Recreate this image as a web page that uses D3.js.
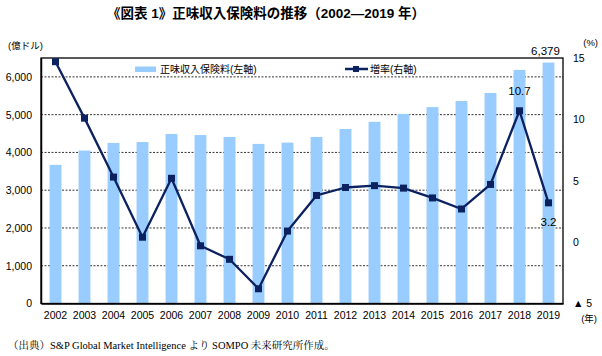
<!DOCTYPE html>
<html><head><meta charset="utf-8">
<script src="https://cdn.jsdelivr.net/npm/d3@7"></script>
<style>
body{margin:0;background:#fff;}
text{font-family:"Liberation Sans","Noto Sans CJK JP",sans-serif;fill:#000;}
</style></head><body>
<svg id="c" width="602" height="356"></svg>
<script>
const years = ["2002","2003","2004","2005","2006","2007","2008","2009","2010","2011","2012","2013","2014","2015","2016","2017","2018","2019"];
const premiums = [3670,4050,4250,4275,4490,4460,4410,4225,4260,4410,4620,4810,5020,5200,5360,5575,6185,6379];
const growth = [14.7,10.1,5.3,0.4,5.2,-0.3,-1.4,-3.8,0.9,3.8,4.45,4.6,4.4,3.6,2.7,4.7,10.7,3.2];
const leftTicks = [0,1000,2000,3000,4000,5000,6000];
const rightTicks = [-5,0,5,10,15];
const title = "《図表 1》正味収入保険料の推移（2002—2019 年）";
const legendBar = "正味収入保険料(左軸)";
const legendLine = "増率(右軸)";
const note = "（出典）S&P Global Market Intelligence より SOMPO 未来研究所作成。";

const svg = d3.select("#c");
const L=41, R=563, T=58, B=303.5;
const x = d3.scaleBand().domain(years).range([L,R]).paddingInner(0.59).paddingOuter(0.295);
const xc = d3.scaleBand().domain(years).range([L,R]);
const yL = d3.scaleLinear().domain([0,6500]).range([B,T]);
const yR = d3.scaleLinear().domain([-5,15]).range([B,T]);
const barColor="#99CCFF", lineColor="#0B2160";

// title
svg.append("text").attr("x",266).attr("y",18).attr("text-anchor","middle")
  .style("font-size","13.5px").style("font-weight","600").text(title);

// gridlines
svg.append("g").selectAll("line").data(leftTicks.filter(d=>d>0)).join("line")
  .attr("x1",L).attr("x2",R).attr("y1",d=>yL(d)).attr("y2",d=>yL(d))
  .attr("stroke","#333").attr("stroke-width",1).attr("stroke-dasharray","2,1.5");

// bars
svg.append("g").selectAll("rect").data(years).join("rect")
  .attr("x",d=>x(d)).attr("width",x.bandwidth())
  .attr("y",(d,i)=>yL(premiums[i])).attr("height",(d,i)=>B-yL(premiums[i]))
  .attr("fill",barColor);

// frame
svg.append("rect").attr("x",L).attr("y",T).attr("width",R-L).attr("height",B-T)
  .attr("fill","none").attr("stroke","#000").attr("stroke-width",1.3);

// left axis
const gl = svg.append("g").attr("transform",`translate(${L},0)`)
  .call(d3.axisLeft(yL).tickValues(leftTicks).tickFormat(d3.format(",")).tickSize(0).tickPadding(9));
gl.select(".domain").attr("stroke","#000").attr("stroke-width",1.5);
gl.selectAll("text").style("font-size","10.5px").style("font-family","Liberation Sans");

// right axis
const gr = svg.append("g").attr("transform",`translate(${R},0)`)
  .call(d3.axisRight(yR).tickValues(rightTicks).tickFormat(d=>d<0?"▲ "+Math.abs(d):d).tickSize(0).tickPadding(10));
gr.select(".domain").remove();
gr.selectAll("text").style("font-size","10.5px").style("font-family","Liberation Sans");

// bottom axis
const gb = svg.append("g").attr("transform",`translate(0,${B})`)
  .call(d3.axisBottom(xc).tickSize(0).tickPadding(8));
gb.select(".domain").attr("stroke","#000").attr("stroke-width",1.5);
gb.selectAll("text").style("font-size","10.5px").style("font-family","Liberation Sans");

// line
const line = d3.line().x((d,i)=>xc(years[i])+xc.bandwidth()/2).y(d=>yR(d));
svg.append("path").datum(growth).attr("d",line).attr("fill","none")
  .attr("stroke",lineColor).attr("stroke-width",2.3).attr("stroke-linejoin","round");
svg.append("g").selectAll("rect").data(growth).join("rect")
  .attr("x",(d,i)=>xc(years[i])+xc.bandwidth()/2-3.5).attr("y",d=>yR(d)-3.5)
  .attr("width",7).attr("height",7).attr("fill",lineColor);

// data labels
const i18 = years.indexOf("2018"), i19 = years.indexOf("2019");
svg.append("text").attr("x",xc(years[i18])+xc.bandwidth()/2).attr("y",yR(growth[i18])-16)
  .attr("text-anchor","middle").style("font-size","11.5px").text(growth[i18].toFixed(1));
svg.append("text").attr("x",xc(years[i19])+xc.bandwidth()/2).attr("y",yR(growth[i19])+23)
  .attr("text-anchor","middle").style("font-size","11.5px").text(growth[i19].toFixed(1));
svg.append("text").attr("x",xc(years[i19])+xc.bandwidth()/2-3).attr("y",yL(premiums[i19])-8)
  .attr("text-anchor","middle").style("font-size","11.5px").text(d3.format(",")(premiums[i19]));

// axis titles
svg.append("text").attr("x",8).attr("y",49).style("font-size","9.5px").text("(億ドル)");
svg.append("text").attr("x",598).attr("y",46).attr("text-anchor","end").style("font-size","9.5px").text("(%)");
svg.append("text").attr("x",597).attr("y",322).attr("text-anchor","end").style("font-size","9.5px").text("(年)");

// legend
svg.append("rect").attr("x",135).attr("y",66.5).attr("width",21).attr("height",5.5).attr("fill",barColor);
svg.append("text").attr("x",160).attr("y",73).style("font-size","10px").text(legendBar);
svg.append("line").attr("x1",345).attr("x2",368).attr("y1",69).attr("y2",69).attr("stroke",lineColor).attr("stroke-width",2.5);
svg.append("rect").attr("x",353).attr("y",66).attr("width",6).attr("height",6).attr("fill",lineColor);
svg.append("text").attr("x",370).attr("y",73).style("font-size","10px").text(legendLine);

// note
svg.append("text").attr("x",8).attr("y",349).style("font-size","10.5px")
  .style("font-family","'Liberation Serif','Noto Serif CJK JP','Noto Sans CJK JP',serif").text(note);
</script></body></html>
